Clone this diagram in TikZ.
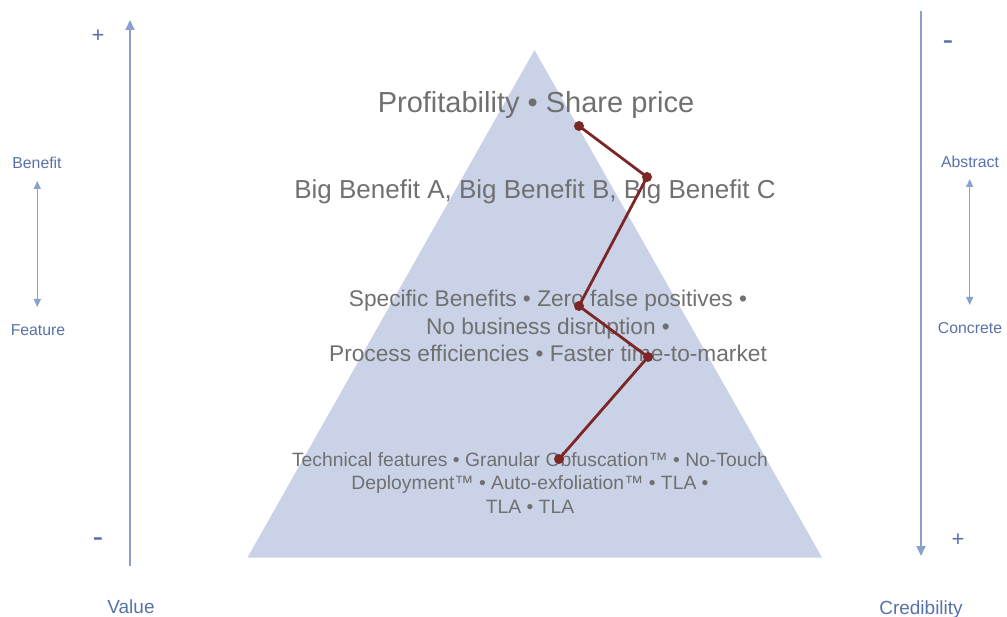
\documentclass[tikz,border=0pt]{standalone}
\usepackage{fontspec}
\setmainfont{Liberation Sans}
\usetikzlibrary{arrows.meta,positioning}
\definecolor{pyrfill}{RGB}{202,210,231}
\definecolor{pyrtext}{RGB}{112,112,112}
\definecolor{axisline}{RGB}{139,160,207}
\definecolor{axistext}{RGB}{88,113,168}
\definecolor{pathred}{RGB}{125,38,38}

\begin{document}
\begin{tikzpicture}[x=1pt, y=-1pt, every node/.style={inner sep=0pt, outer sep=0pt}, align=center]
  \tikzset{axis/.style={draw=axisline, line width=2pt, -{Triangle[length=10pt,width=9pt]}},
    span/.style={draw=axisline, line width=1.4pt, {Triangle[length=8pt,width=7pt]}-{Triangle[length=8pt,width=7pt]}},
    axlabel/.style={text=axistext, font=\fontsize{15.8}{19}\selectfont, anchor=base},
    axtitle/.style={text=axistext, font=\fontsize{19}{22}\selectfont, anchor=base},
    sign/.style={text=axistext, font=\fontsize{22}{24}\selectfont, anchor=center},
    minus/.style={text=axistext, font=\fontsize{32}{32}\selectfont, anchor=center},
    level/.style={text=pyrtext, anchor=base},
    dot/.style={circle, fill=pathred, minimum size=10pt}}
  \useasboundingbox (0,0) rectangle (1007,617);

  % pyramid
  \fill[pyrfill] (534.5,50) -- (822,557.5) -- (247.5,557.5) -- cycle;

  % value axis (left)
  \coordinate (vlow) at (130,566);
  \coordinate (vhigh) at (130,20);
  \draw[axis] (vlow) -- (vhigh);
  \node[sign] (vplus) at (98,36) {+};
  \node[minus] (vminus) at (98,543) {-};
  \node[axlabel] (benefit) at (37,169) {Benefit};
  \node[axlabel] (feature) at (38,336) {Feature};
  \coordinate (btop) at (37.3,181);
  \coordinate (bbot) at (37.3,307);
  \draw[span] (btop) -- (bbot);
  \node[axtitle] (value) at (131,613) {Value};

  % credibility axis (right)
  \coordinate (ctop) at (921,11);
  \coordinate (cbot) at (921,556);
  \draw[axis] (ctop) -- (cbot);
  \node[minus] (cminus) at (948,46) {-};
  \node[sign] (cplus) at (958,540) {+};
  \node[axlabel] (abstract) at (970,168) {Abstract};
  \node[axlabel] (concrete) at (970,334) {Concrete};
  \coordinate (atop) at (969.7,179);
  \coordinate (abot) at (969.7,305);
  \draw[span] (atop) -- (abot);
  \node[axtitle] (credibility) at (921,614) {Credibility};

  % pyramid levels (base = last line)
  \node[level, font=\fontsize{29}{29}\selectfont] (profit) at (536,113) {Profitability • Share price};
  \node[level, font=\fontsize{26}{26}\selectfont] (bigben) at (535,199) {Big Benefit A, Big Benefit B, Big Benefit C};
  \node[level, font=\fontsize{22.7}{27.5}\selectfont] (specific) at (548,362)
    {Specific Benefits • Zero false positives •\\ No business disruption •\\ Process efficiencies • Faster time-to-market};
  \node[level, font=\fontsize{19.3}{23.5}\selectfont] (technical) at (530,513)
    {Technical features • Granular Obfuscation™ • No-Touch\\ Deployment™ • Auto-exfoliation™ • TLA •\\ TLA • TLA};

  % zigzag path
  \coordinate (p1) at (579,126);
  \coordinate (p2) at (647,177);
  \coordinate (p3) at (579,306);
  \coordinate (p4) at (648,357);
  \coordinate (p5) at (559,459);
  \draw[pathred, line width=2.8pt, line join=round] (p1) -- (p2) -- (p3) -- (p4) -- (p5);
  \foreach \p in {p1,p2,p3,p4,p5}
    \node[dot] at (\p) {};
\end{tikzpicture}
\end{document}
